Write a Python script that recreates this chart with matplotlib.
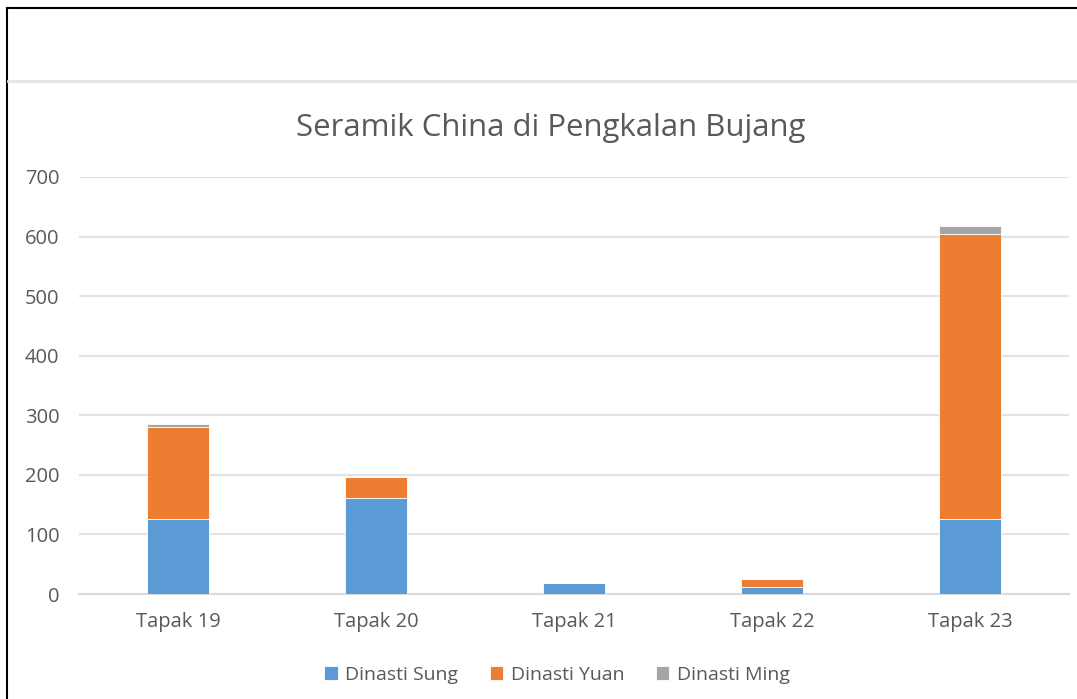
import numpy as np
import matplotlib
matplotlib.use("Agg")
import matplotlib.pyplot as plt
from matplotlib.lines import Line2D

# data
sites = ['Tapak 19', 'Tapak 20', 'Tapak 21', 'Tapak 22', 'Tapak 23']
sung = [126, 161, 18, 12, 126]
yuan = [154, 35, 0, 13, 478]
ming = [5, 0, 0, 0, 13]
series_names = ['Dinasti Sung', 'Dinasti Yuan', 'Dinasti Ming']
colors = ['#5B9BD5', '#ED7D31', '#A5A5A5']

plt.rcParams['font.family'] = ['Open Sans', 'DejaVu Sans']
W, H = 1077, 699
fig = plt.figure(figsize=(W / 100, H / 100), dpi=100)

# outer frame pieces visible in the screenshot
fig.add_artist(Line2D([7 / W, 1], [1 - 8 / H, 1 - 8 / H], color='black', lw=1.5))
fig.add_artist(Line2D([7 / W, 7 / W], [0, 1 - 8 / H], color='black', lw=1.5))
fig.add_artist(Line2D([8 / W, 1], [1 - 81 / H, 1 - 81 / H], color='#E3E3E3', lw=2))

ax = fig.add_axes([79 / W, 1 - 594 / H, 990 / W, 417 / H])
x = np.arange(len(sites))
width = 0.315
bottom = np.zeros(len(sites))
for vals, name, c in zip([sung, yuan, ming], series_names, colors):
    ax.bar(x, vals, width, bottom=bottom, color=c, label=name,
           edgecolor='white', linewidth=0.6, zorder=3)
    bottom += np.array(vals)

ax.set_xlim(-0.5, len(sites) - 0.5)
ax.set_ylim(0, 700)
ax.set_yticks(range(0, 701, 100))
ax.set_xticks(x)
ax.set_xticklabels(sites)
ax.grid(axis='y', color='#E3E3E3', lw=1.5, zorder=0)
ax.set_axisbelow(True)
for s in ['top', 'right', 'left']:
    ax.spines[s].set_visible(False)
ax.spines['bottom'].set_color('#DADADA')
ax.spines['bottom'].set_linewidth(1.5)
ax.tick_params(axis='both', length=0, labelsize=14.5, colors='#595959')
ax.tick_params(axis='y', pad=14)
ax.tick_params(axis='x', pad=13)

fig.text(551 / W, 1 - 128 / H, 'Seramik China di Pengkalan Bujang',
         ha='center', va='center', fontsize=22.4, color='#595959')

leg = fig.legend(loc='center', bbox_to_anchor=(557 / W, 1 - 675 / H), ncol=3,
                 frameon=False, fontsize=14, handlelength=0.7, handleheight=0.7,
                 handletextpad=0.4, columnspacing=1.6)
for t in leg.get_texts():
    t.set_color('#595959')

fig.savefig('out.png', dpi=100)
